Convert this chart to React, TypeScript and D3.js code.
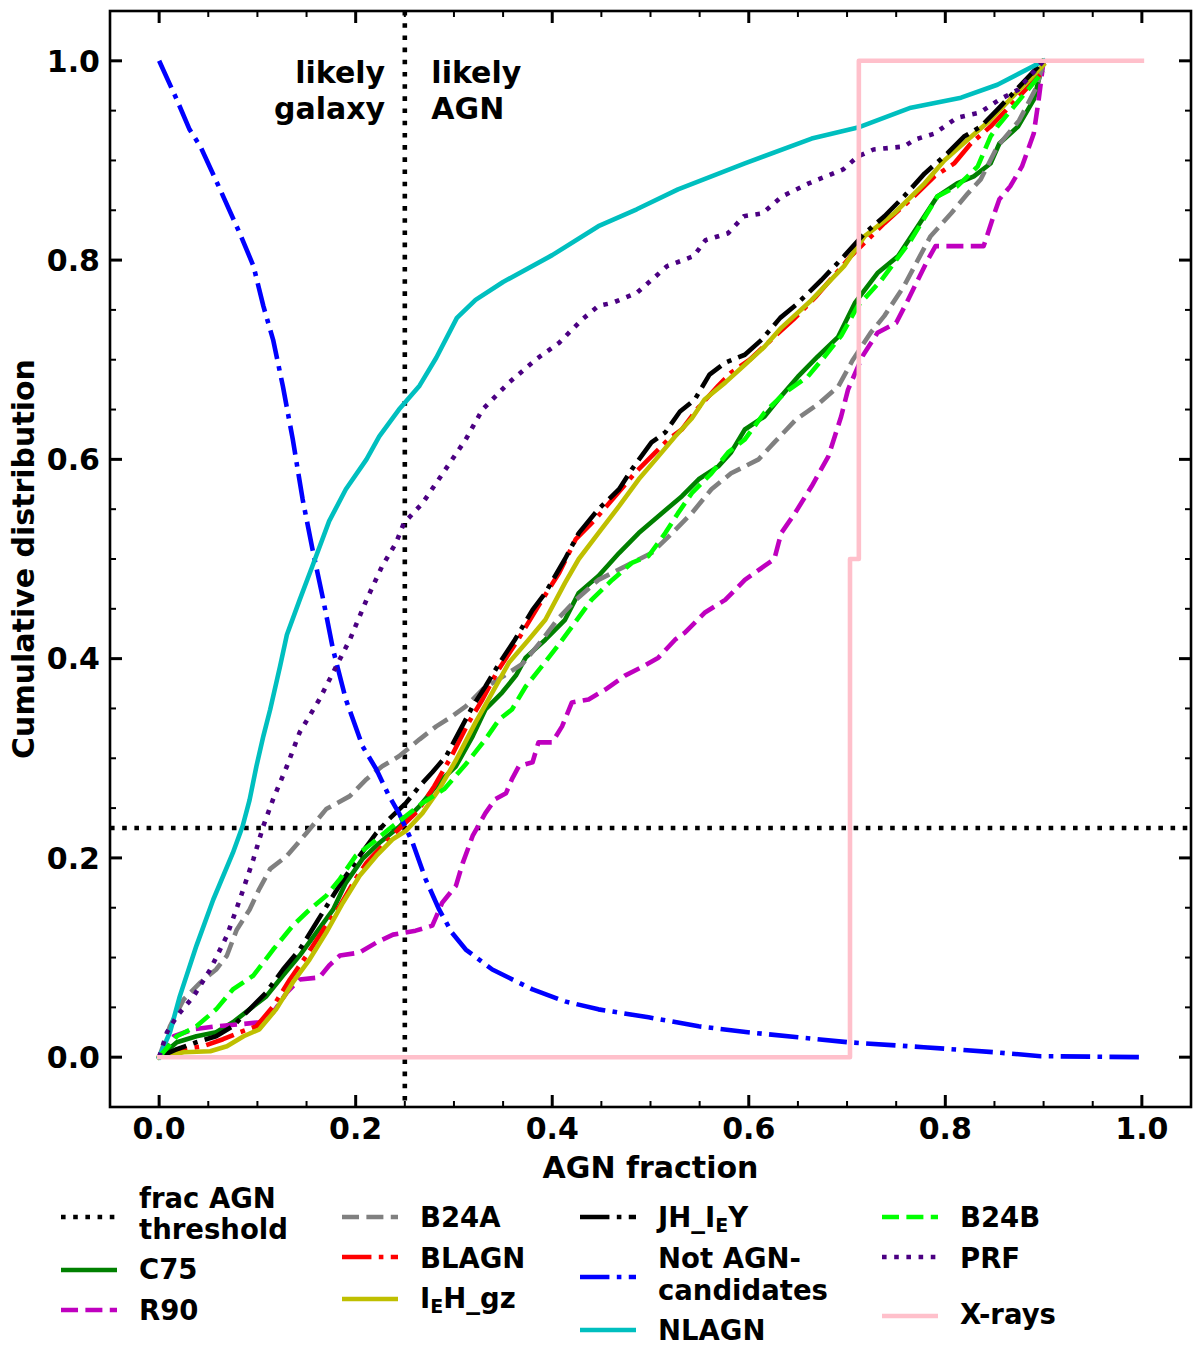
import * as d3 from "d3";

type Pt = [number, number];

// Cumulative distributions of the AGN fraction, one array per sample
const c75: Pt[] = [
  [0, 0], [0.018, 0.015], [0.038, 0.021], [0.058, 0.025], [0.075, 0.035], [0.092, 0.048],
  [0.109, 0.061], [0.126, 0.082], [0.143, 0.102], [0.16, 0.125], [0.177, 0.148], [0.19, 0.175],
  [0.207, 0.199], [0.224, 0.215], [0.244, 0.231], [0.265, 0.252], [0.285, 0.276], [0.302, 0.292],
  [0.319, 0.322], [0.332, 0.349], [0.349, 0.366], [0.363, 0.383], [0.373, 0.401], [0.393, 0.419],
  [0.413, 0.439], [0.427, 0.466], [0.447, 0.483], [0.468, 0.506], [0.488, 0.526], [0.508, 0.543],
  [0.532, 0.563], [0.549, 0.58], [0.569, 0.593], [0.582, 0.607], [0.596, 0.63], [0.616, 0.643],
  [0.63, 0.66], [0.65, 0.683], [0.67, 0.703], [0.691, 0.723], [0.708, 0.757], [0.731, 0.787],
  [0.752, 0.804], [0.772, 0.834], [0.792, 0.864], [0.812, 0.877], [0.829, 0.884], [0.846, 0.897],
  [0.855, 0.917], [0.874, 0.934], [0.89, 0.961], [0.9, 1.0],
];

const r90: Pt[] = [
  [0, 0], [0.015, 0.021], [0.035, 0.028], [0.058, 0.031], [0.082, 0.033], [0.102, 0.035],
  [0.116, 0.045], [0.13, 0.065], [0.143, 0.078], [0.163, 0.08], [0.173, 0.092], [0.184, 0.102],
  [0.204, 0.105], [0.221, 0.115], [0.238, 0.123], [0.261, 0.127], [0.278, 0.132], [0.288, 0.155],
  [0.302, 0.172], [0.309, 0.195], [0.319, 0.222], [0.332, 0.245], [0.342, 0.259], [0.353, 0.265],
  [0.359, 0.279], [0.366, 0.292], [0.38, 0.296], [0.386, 0.316], [0.4, 0.316], [0.41, 0.332],
  [0.42, 0.356], [0.437, 0.359], [0.454, 0.369], [0.474, 0.383], [0.494, 0.393], [0.508, 0.401],
  [0.525, 0.419], [0.535, 0.426], [0.555, 0.446], [0.576, 0.459], [0.596, 0.479], [0.616, 0.493],
  [0.626, 0.5], [0.633, 0.526], [0.647, 0.546], [0.664, 0.573], [0.681, 0.603], [0.694, 0.643],
  [0.701, 0.67], [0.716, 0.704], [0.731, 0.727], [0.75, 0.737], [0.762, 0.76], [0.772, 0.78],
  [0.782, 0.8], [0.79, 0.814], [0.839, 0.814], [0.85, 0.847], [0.855, 0.861], [0.866, 0.874],
  [0.878, 0.894], [0.89, 0.927], [0.895, 0.961], [0.9, 1.0],
];

const b24a: Pt[] = [
  [0, 0], [0.011, 0.031], [0.025, 0.058], [0.042, 0.075], [0.058, 0.088], [0.069, 0.102],
  [0.079, 0.128], [0.092, 0.148], [0.102, 0.169], [0.113, 0.189], [0.13, 0.202], [0.15, 0.225],
  [0.17, 0.249], [0.194, 0.262], [0.211, 0.279], [0.227, 0.292], [0.244, 0.302], [0.265, 0.319],
  [0.282, 0.332], [0.298, 0.342], [0.312, 0.352], [0.329, 0.369], [0.356, 0.386], [0.37, 0.395],
  [0.39, 0.419], [0.405, 0.439], [0.424, 0.459], [0.447, 0.479], [0.481, 0.496], [0.501, 0.506],
  [0.522, 0.526], [0.542, 0.546], [0.562, 0.57], [0.582, 0.586], [0.61, 0.6], [0.626, 0.617],
  [0.648, 0.64], [0.67, 0.655], [0.691, 0.673], [0.706, 0.7], [0.724, 0.727], [0.738, 0.744],
  [0.758, 0.774], [0.772, 0.8], [0.785, 0.824], [0.806, 0.847], [0.823, 0.867], [0.836, 0.881],
  [0.853, 0.914], [0.875, 0.94], [0.893, 0.974], [0.9, 1.0],
];

const blagn: Pt[] = [
  [0, 0], [0.025, 0.008], [0.045, 0.011], [0.065, 0.018], [0.082, 0.025], [0.099, 0.031],
  [0.116, 0.051], [0.133, 0.078], [0.15, 0.102], [0.167, 0.128], [0.184, 0.152], [0.2, 0.179],
  [0.211, 0.195], [0.227, 0.212], [0.244, 0.229], [0.263, 0.247], [0.28, 0.272], [0.298, 0.303],
  [0.315, 0.336], [0.329, 0.359], [0.344, 0.387], [0.364, 0.417], [0.386, 0.453], [0.407, 0.486],
  [0.424, 0.52], [0.444, 0.54], [0.464, 0.563], [0.484, 0.586], [0.505, 0.607], [0.518, 0.62],
  [0.532, 0.63], [0.547, 0.65], [0.569, 0.674], [0.582, 0.687], [0.601, 0.7], [0.626, 0.723],
  [0.645, 0.74], [0.668, 0.763], [0.704, 0.804], [0.738, 0.837], [0.765, 0.861], [0.789, 0.884],
  [0.809, 0.897], [0.826, 0.917], [0.846, 0.934], [0.9, 0.99],
];

const iehGz: Pt[] = [
  [0, 0], [0.025, 0.005], [0.052, 0.006], [0.069, 0.011], [0.086, 0.021], [0.102, 0.028],
  [0.119, 0.048], [0.136, 0.075], [0.153, 0.098], [0.17, 0.125], [0.187, 0.155], [0.204, 0.182],
  [0.221, 0.202], [0.238, 0.219], [0.251, 0.227], [0.268, 0.245], [0.285, 0.269], [0.302, 0.298],
  [0.322, 0.336], [0.339, 0.366], [0.356, 0.396], [0.376, 0.419], [0.393, 0.439], [0.413, 0.476],
  [0.427, 0.5], [0.447, 0.526], [0.468, 0.553], [0.488, 0.58], [0.508, 0.603], [0.525, 0.623],
  [0.542, 0.641], [0.555, 0.66], [0.576, 0.677], [0.596, 0.695], [0.616, 0.713], [0.633, 0.732],
  [0.664, 0.76], [0.697, 0.794], [0.718, 0.824], [0.748, 0.847], [0.779, 0.877], [0.799, 0.9],
  [0.823, 0.921], [0.843, 0.938], [0.9, 0.996],
];

const jhIey: Pt[] = [
  [0, 0], [0.018, 0.008], [0.038, 0.015], [0.058, 0.021], [0.075, 0.031], [0.092, 0.048],
  [0.109, 0.065], [0.126, 0.088], [0.143, 0.108], [0.16, 0.135], [0.177, 0.162], [0.19, 0.182],
  [0.204, 0.202], [0.221, 0.225], [0.234, 0.239], [0.251, 0.255], [0.265, 0.272], [0.278, 0.286],
  [0.292, 0.302], [0.305, 0.326], [0.319, 0.352], [0.332, 0.372], [0.346, 0.395], [0.362, 0.419],
  [0.38, 0.449], [0.393, 0.466], [0.413, 0.5], [0.427, 0.526], [0.447, 0.55], [0.468, 0.57],
  [0.481, 0.59], [0.501, 0.617], [0.515, 0.627], [0.53, 0.648], [0.545, 0.66], [0.56, 0.685],
  [0.576, 0.697], [0.596, 0.705], [0.613, 0.72], [0.632, 0.742], [0.648, 0.755], [0.674, 0.78],
  [0.697, 0.804], [0.718, 0.827], [0.738, 0.844], [0.758, 0.864], [0.779, 0.887], [0.802, 0.907],
  [0.819, 0.924], [0.836, 0.934], [0.853, 0.951], [0.9, 1.0],
];

const notAgn: Pt[] = [
  [0, 1.0], [0.018, 0.961], [0.031, 0.931], [0.042, 0.914], [0.062, 0.871], [0.082, 0.827],
  [0.096, 0.794], [0.106, 0.754], [0.116, 0.72], [0.126, 0.673], [0.136, 0.62], [0.146, 0.56],
  [0.156, 0.51], [0.167, 0.459], [0.177, 0.409], [0.19, 0.359], [0.207, 0.312], [0.221, 0.289],
  [0.234, 0.262], [0.244, 0.245], [0.258, 0.215], [0.271, 0.179], [0.285, 0.148], [0.298, 0.125],
  [0.312, 0.108], [0.339, 0.088], [0.38, 0.068], [0.413, 0.056], [0.447, 0.048], [0.498, 0.04],
  [0.549, 0.031], [0.599, 0.025], [0.65, 0.02], [0.701, 0.015], [0.778, 0.01], [0.85, 0.005],
  [0.897, 0.001], [1.0, 0.0],
];

const nlagn: Pt[] = [
  [0, 0], [0.011, 0.025], [0.021, 0.061], [0.038, 0.112], [0.055, 0.158], [0.075, 0.205],
  [0.085, 0.232], [0.092, 0.258], [0.099, 0.292], [0.106, 0.322], [0.113, 0.349], [0.123, 0.392],
  [0.13, 0.424], [0.143, 0.459], [0.156, 0.493], [0.173, 0.538], [0.19, 0.57], [0.211, 0.6],
  [0.224, 0.623], [0.244, 0.65], [0.265, 0.674], [0.282, 0.702], [0.303, 0.742], [0.322, 0.76],
  [0.35, 0.778], [0.4, 0.805], [0.447, 0.834], [0.486, 0.851], [0.528, 0.871], [0.596, 0.897],
  [0.664, 0.922], [0.711, 0.933], [0.765, 0.953], [0.816, 0.963], [0.853, 0.976], [0.9, 1.0],
];

const b24b: Pt[] = [
  [0, 0], [0.018, 0.021], [0.038, 0.031], [0.058, 0.048], [0.075, 0.068], [0.096, 0.082],
  [0.116, 0.108], [0.136, 0.132], [0.153, 0.148], [0.17, 0.162], [0.184, 0.179], [0.2, 0.202],
  [0.217, 0.215], [0.234, 0.229], [0.251, 0.242], [0.268, 0.255], [0.29, 0.269], [0.312, 0.294],
  [0.332, 0.319], [0.346, 0.339], [0.359, 0.349], [0.373, 0.372], [0.39, 0.393], [0.405, 0.412],
  [0.42, 0.432], [0.44, 0.459], [0.461, 0.479], [0.481, 0.496], [0.498, 0.503], [0.515, 0.526],
  [0.528, 0.546], [0.542, 0.566], [0.562, 0.586], [0.579, 0.607], [0.596, 0.62], [0.616, 0.647],
  [0.637, 0.667], [0.66, 0.683], [0.677, 0.703], [0.694, 0.724], [0.711, 0.754], [0.735, 0.78],
  [0.765, 0.82], [0.792, 0.864], [0.812, 0.874], [0.833, 0.894], [0.846, 0.924], [0.853, 0.934],
  [0.9, 0.99],
];

const prf: Pt[] = [
  [0, 0], [0.008, 0.025], [0.018, 0.041], [0.035, 0.061], [0.052, 0.088], [0.069, 0.122],
  [0.082, 0.158], [0.096, 0.199], [0.106, 0.232], [0.116, 0.259], [0.13, 0.292], [0.143, 0.326],
  [0.163, 0.359], [0.177, 0.386], [0.194, 0.419], [0.211, 0.459], [0.227, 0.493], [0.241, 0.516],
  [0.249, 0.536], [0.268, 0.556], [0.288, 0.585], [0.312, 0.62], [0.329, 0.65], [0.356, 0.677],
  [0.383, 0.7], [0.407, 0.717], [0.43, 0.74], [0.447, 0.754], [0.461, 0.757], [0.486, 0.767],
  [0.517, 0.794], [0.544, 0.804], [0.556, 0.82], [0.579, 0.827], [0.595, 0.844], [0.614, 0.847],
  [0.634, 0.864], [0.661, 0.877], [0.696, 0.891], [0.711, 0.904], [0.727, 0.911], [0.758, 0.914],
  [0.769, 0.921], [0.789, 0.927], [0.812, 0.943], [0.835, 0.948], [0.855, 0.961], [0.874, 0.971],
  [0.9, 1.0],
];

const xrays: Pt[] = [
  [0, 0], [0.703, 0], [0.703, 0.5], [0.712, 0.5], [0.712, 1.0], [1.0, 1.0],
];

const fracThreshold = 0.25;
const cdfThreshold = 0.23;

const xTicks = [0, 0.2, 0.4, 0.6, 0.8, 1.0];
const yTicks = [0, 0.2, 0.4, 0.6, 0.8, 1.0];
const minorTicks = d3.range(0, 21).map((i) => i * 0.05);

const W = 1200;
const H = 1348;
const plot = { left: 110, right: 1191, top: 11, bottom: 1107 };
const LW = 4.6;
const FONT = "'DejaVu Sans', 'Liberation Sans', sans-serif";

const DASH: Record<string, string | undefined> = {
  solid: undefined,
  dotted: `${LW} ${1.65 * LW}`,
  dashed: `${3.7 * LW} ${1.6 * LW}`,
  dashdot: `${6.4 * LW} ${1.6 * LW} ${LW} ${1.6 * LW}`,
};

type Series = { key: string; data: Pt[]; color: string; style: string };

// plotting order (X-rays last, on top)
const series: Series[] = [
  { key: "C75", data: c75, color: "#008000", style: "solid" },
  { key: "R90", data: r90, color: "#bf00bf", style: "dashed" },
  { key: "B24A", data: b24a, color: "#808080", style: "dashed" },
  { key: "BLAGN", data: blagn, color: "#ff0000", style: "dashdot" },
  { key: "IEH_gz", data: iehGz, color: "#bfbf00", style: "solid" },
  { key: "JH_IEY", data: jhIey, color: "#000000", style: "dashdot" },
  { key: "NotAGN", data: notAgn, color: "#0000ff", style: "dashdot" },
  { key: "NLAGN", data: nlagn, color: "#00bfbf", style: "solid" },
  { key: "B24B", data: b24b, color: "#00ff00", style: "dashed" },
  { key: "PRF", data: prf, color: "#4b0082", style: "dotted" },
  { key: "X-rays", data: xrays, color: "#ffc0cb", style: "solid" },
];

// legend layout: column handle x, handle y, text baselines
type LegendItem = {
  lines: (string | { base: string; sub: string; rest: string })[];
  color: string;
  style: string;
  col: number;
  hy: number;
  ty: number[];
};

const legendCols = [61, 342, 580, 882];
const legendItems: LegendItem[] = [
  { lines: ["frac AGN", "threshold"], color: "#000000", style: "dotted", col: 0, hy: 1217, ty: [1208, 1239] },
  { lines: ["C75"], color: "#008000", style: "solid", col: 0, hy: 1270, ty: [1279] },
  { lines: ["R90"], color: "#bf00bf", style: "dashed", col: 0, hy: 1310, ty: [1320] },
  { lines: ["B24A"], color: "#808080", style: "dashed", col: 1, hy: 1217, ty: [1227] },
  { lines: ["BLAGN"], color: "#ff0000", style: "dashdot", col: 1, hy: 1257, ty: [1268] },
  { lines: [{ base: "I", sub: "E", rest: "H_gz" }], color: "#bfbf00", style: "solid", col: 1, hy: 1299, ty: [1308] },
  { lines: [{ base: "JH_I", sub: "E", rest: "Y" }], color: "#000000", style: "dashdot", col: 2, hy: 1217, ty: [1227] },
  { lines: ["Not AGN-", "candidates"], color: "#0000ff", style: "dashdot", col: 2, hy: 1277, ty: [1268, 1300] },
  { lines: ["NLAGN"], color: "#00bfbf", style: "solid", col: 2, hy: 1330, ty: [1340] },
  { lines: ["B24B"], color: "#00ff00", style: "dashed", col: 3, hy: 1217, ty: [1227] },
  { lines: ["PRF"], color: "#4b0082", style: "dotted", col: 3, hy: 1257, ty: [1268] },
  { lines: ["X-rays"], color: "#ffc0cb", style: "solid", col: 3, hy: 1316, ty: [1324] },
];

export default function App() {
  const x = d3.scaleLinear().domain([-0.05, 1.05]).range([plot.left, plot.right]);
  const y = d3.scaleLinear().domain([-0.05, 1.05]).range([plot.bottom, plot.top]);

  const line = d3
    .line<Pt>()
    .x((d) => x(d[0]))
    .y((d) => y(d[1]));

  const minorX = minorTicks.filter((t) => !xTicks.some((m) => Math.abs(m - t) < 1e-6));
  const minorY = minorX;

  const tickLines: JSX.Element[] = [];
  const addTick = (key: string, x1: number, y1: number, x2: number, y2: number, w: number) =>
    tickLines.push(<line key={key} x1={x1} y1={y1} x2={x2} y2={y2} stroke="#000" strokeWidth={w} />);

  xTicks.forEach((t) => {
    addTick(`xb${t}`, x(t), plot.bottom, x(t), plot.bottom - 12, 3);
    addTick(`xt${t}`, x(t), plot.top, x(t), plot.top + 12, 3);
  });
  minorX.forEach((t) => {
    addTick(`mxb${t}`, x(t), plot.bottom, x(t), plot.bottom - 6, 2);
    addTick(`mxt${t}`, x(t), plot.top, x(t), plot.top + 6, 2);
  });
  yTicks.forEach((t) => {
    addTick(`yl${t}`, plot.left, y(t), plot.left + 12, y(t), 3);
    addTick(`yr${t}`, plot.right, y(t), plot.right - 12, y(t), 3);
  });
  minorY.forEach((t) => {
    addTick(`myl${t}`, plot.left, y(t), plot.left + 6, y(t), 2);
    addTick(`myr${t}`, plot.right, y(t), plot.right - 6, y(t), 2);
  });

  const dashProps = (style: string) => ({
    strokeDasharray: DASH[style],
    strokeLinecap: (style === "solid" ? "square" : "butt") as "square" | "butt",
  });

  return (
    <div style={{ position: "absolute", left: 0, top: 0 }}>
      <svg width={W} height={H} viewBox={`0 0 ${W} ${H}`} style={{ display: "block", background: "#fff" }}>
        <defs>
          <clipPath id="plot-area">
            <rect x={plot.left} y={plot.top} width={plot.right - plot.left} height={plot.bottom - plot.top} />
          </clipPath>
        </defs>

        <g clipPath="url(#plot-area)">
          {/* threshold lines */}
          <line
            x1={x(fracThreshold)}
            x2={x(fracThreshold)}
            y1={plot.top}
            y2={plot.bottom}
            stroke="#000"
            strokeWidth={LW}
            {...dashProps("dotted")}
          />
          <line
            x1={plot.left}
            x2={plot.right}
            y1={y(cdfThreshold)}
            y2={y(cdfThreshold)}
            stroke="#000"
            strokeWidth={LW}
            {...dashProps("dotted")}
          />

          {series.map((s) => (
            <path
              key={s.key}
              d={line(s.data) || ""}
              fill="none"
              stroke={s.color}
              strokeWidth={LW}
              strokeLinejoin="round"
              {...dashProps(s.style)}
            />
          ))}
        </g>

        {/* region annotations */}
        <g fontFamily={FONT} fontWeight="bold" fontSize={30} fill="#000">
          <text x={x(0.23)} y={y(0.978)} textAnchor="end">likely</text>
          <text x={x(0.23)} y={y(0.942)} textAnchor="end">galaxy</text>
          <text x={x(0.277)} y={y(0.978)}>likely</text>
          <text x={x(0.277)} y={y(0.942)}>AGN</text>
        </g>

        {/* frame and ticks */}
        <rect
          x={plot.left}
          y={plot.top}
          width={plot.right - plot.left}
          height={plot.bottom - plot.top}
          fill="none"
          stroke="#000"
          strokeWidth={2.6}
        />
        {tickLines}

        <g fontFamily={FONT} fontWeight="bold" fontSize={30} fill="#000">
          {xTicks.map((t) => (
            <text key={`xl${t}`} x={x(t)} y={1139} textAnchor="middle">
              {d3.format(".1f")(t)}
            </text>
          ))}
          {yTicks.map((t) => (
            <text key={`yl${t}`} x={plot.left - 10} y={y(t)} dy="0.36em" textAnchor="end">
              {d3.format(".1f")(t)}
            </text>
          ))}
          <text x={(plot.left + plot.right) / 2} y={1178} textAnchor="middle">
            AGN fraction
          </text>
          <text
            transform={`translate(34, ${(plot.top + plot.bottom) / 2}) rotate(-90)`}
            textAnchor="middle"
          >
            Cumulative distribution
          </text>
        </g>

        {/* legend */}
        <g fontFamily={FONT} fontWeight="bold" fontSize={27.5} fill="#000">
          {legendItems.map((item, i) => {
            const hx = legendCols[item.col];
            return (
              <g key={`lg${i}`}>
                <line
                  x1={hx}
                  x2={hx + 56}
                  y1={item.hy}
                  y2={item.hy}
                  stroke={item.color}
                  strokeWidth={LW}
                  {...dashProps(item.style)}
                  strokeLinecap="butt"
                />
                {item.lines.map((ln, j) =>
                  typeof ln === "string" ? (
                    <text key={j} x={hx + 78} y={item.ty[j]}>
                      {ln}
                    </text>
                  ) : (
                    <text key={j} x={hx + 78} y={item.ty[j]}>
                      <tspan>{ln.base}</tspan>
                      <tspan fontSize={19} dy={5}>
                        {ln.sub}
                      </tspan>
                      <tspan dy={-5}>{ln.rest}</tspan>
                    </text>
                  )
                )}
              </g>
            );
          })}
        </g>
      </svg>
    </div>
  );
}
